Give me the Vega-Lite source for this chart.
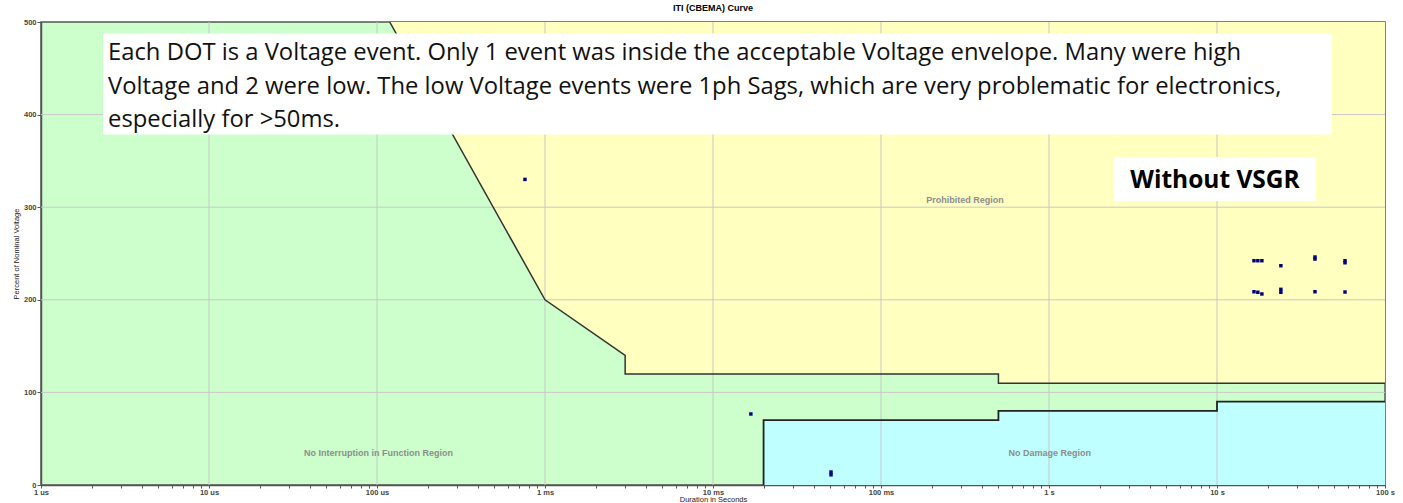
{
  "$schema": "https://vega.github.io/schema/vega-lite/v6.json",
  "width": 1344,
  "height": 463,
  "autosize": {"type": "none"},
  "padding": {"left": 41, "top": 22, "right": 18, "bottom": 18},
  "background": "#ffffff",
  "view": {"fill": "#ccffcc", "stroke": "#555555", "strokeWidth": 1.5},
  "title": {"text": "ITI (CBEMA) Curve", "font": "Liberation Sans", "fontSize": 9, "fontWeight": "bold", "color": "#000000", "offset": 5, "anchor": "middle"},
  "datasets": {
    "upper": [
      {"t": 0.000119, "v": 500, "o": 1},
      {"t": 0.001, "v": 200, "o": 2},
      {"t": 0.003, "v": 140, "o": 3},
      {"t": 0.003, "v": 120, "o": 4},
      {"t": 0.5, "v": 120, "o": 5},
      {"t": 0.5, "v": 110, "o": 6},
      {"t": 100, "v": 110, "o": 7}
    ],
    "lower": [
      {"t": 0.02, "v": 0, "o": 1},
      {"t": 0.02, "v": 70, "o": 2},
      {"t": 0.5, "v": 70, "o": 3},
      {"t": 0.5, "v": 80, "o": 4},
      {"t": 10, "v": 80, "o": 5},
      {"t": 10, "v": 90, "o": 6},
      {"t": 100, "v": 90, "o": 7}
    ],
    "vgrid": [{"t": 1e-5}, {"t": 0.0001}, {"t": 0.001}, {"t": 0.01}, {"t": 0.1}, {"t": 1}, {"t": 10}],
    "hgrid": [{"v": 100}, {"v": 200}, {"v": 300}, {"v": 400}],
    "events": [
      {"t": 0.00076, "v": 330},
      {"t": 0.0168, "v": 76.7},
      {"t": 0.0504, "v": 14},
      {"t": 0.0504, "v": 11},
      {"t": 16.6, "v": 242.2},
      {"t": 17.5, "v": 242.2},
      {"t": 18.5, "v": 242.2},
      {"t": 24.0, "v": 236.8},
      {"t": 38.3, "v": 246.2},
      {"t": 38.3, "v": 244},
      {"t": 57.8, "v": 242.2},
      {"t": 57.8, "v": 240},
      {"t": 16.6, "v": 208.7},
      {"t": 17.5, "v": 208.1},
      {"t": 18.5, "v": 206.3},
      {"t": 24.0, "v": 211.3},
      {"t": 24.0, "v": 208.1},
      {"t": 38.3, "v": 208.7},
      {"t": 57.8, "v": 208.4}
    ],
    "regions": [
      {"t": 0.316, "v": 308, "label": "Prohibited Region"},
      {"t": 0.000102, "v": 35, "label": "No Interruption in Function Region"},
      {"t": 1.01, "v": 35, "label": "No Damage Region"}
    ],
    "boxes": [
      {"t": 2.34e-6, "t2": 48.2, "v": 378.4, "v2": 487.6},
      {"t": 2.44, "t2": 38.8, "v": 306.7, "v2": 354.2}
    ],
    "note": [
      {"t": 2.506e-6, "v": 459.0, "label": "Each DOT is a Voltage event. Only 1 event was inside the acceptable Voltage envelope. Many were high"},
      {"t": 2.506e-6, "v": 422.2, "label": "Voltage and 2 were low. The low Voltage events were 1ph Sags, which are very problematic for electronics,"},
      {"t": 2.506e-6, "v": 386.6, "label": "especially for >50ms."}
    ],
    "tag": [
      {"t": 9.73, "v": 328, "label": "Without VSGR"}
    ]
  },
  "layer": [
    {
      "data": {"name": "upper"},
      "mark": {"type": "area", "color": "#ffffc0", "opacity": 1, "clip": true},
      "encoding": {
        "x": {
          "field": "t", "type": "quantitative",
          "scale": {"type": "log", "domain": [1e-6, 100], "nice": false},
          "axis": {
            "title": "Duration in Seconds",
            "grid": false,
            "values": [1e-6,2e-6,3e-6,4e-6,5e-6,6e-6,7e-6,8e-6,9e-6,1e-5,2e-5,3e-5,4e-5,5e-5,6e-5,7e-5,8e-5,9e-5,0.0001,0.0002,0.0003,0.0004,0.0005,0.0006,0.0007,0.0008,0.0009,0.001,0.002,0.003,0.004,0.005,0.006,0.007,0.008,0.009,0.01,0.02,0.03,0.04,0.05,0.06,0.07,0.08,0.09,0.1,0.2,0.3,0.4,0.5,0.6,0.7,0.8,0.9,1,2,3,4,5,6,7,8,9,10,20,30,40,50,60,70,80,90,100],
            "labelExpr": "abs(log(datum.value)/LN10 - round(log(datum.value)/LN10)) > 0.001 ? '' : (datum.value < 0.00099 ? format(datum.value*1e6,'.0f') + ' us' : datum.value < 0.99 ? format(datum.value*1e3,'.0f') + ' ms' : format(datum.value,'.0f') + ' s')",
            "labelOverlap": false,
            "labelFlush": false,
            "labelFont": "Liberation Sans",
            "labelFontSize": 7.5,
            "labelFontWeight": "bold",
            "labelColor": "#444444",
            "labelPadding": 0,
            "tickSize": 3,
            "tickColor": "#555555",
            "domainColor": "#555555",
            "domainWidth": 1.5,
            "titleFont": "Liberation Sans",
            "titleFontSize": 7.5,
            "titleFontWeight": "normal",
            "titleColor": "#222222",
            "titlePadding": 0
          }
        },
        "y": {
          "field": "v", "type": "quantitative",
          "stack": null,
          "scale": {"domain": [0, 500], "nice": false},
          "axis": {
            "title": "Percent of Nominal Voltage",
            "grid": false,
            "values": [0, 100, 200, 300, 400, 500],
            "labelFont": "Liberation Sans",
            "labelFontSize": 7.5,
            "labelFontWeight": "bold",
            "labelColor": "#444444",
            "labelPadding": 1,
            "tickSize": 4,
            "tickColor": "#555555",
            "domainColor": "#555555",
            "domainWidth": 1.5,
            "titleFont": "Liberation Sans",
            "titleFontSize": 7.5,
            "titleFontWeight": "normal",
            "titleColor": "#222222",
            "titlePadding": 3
          }
        },
        "y2": {"datum": 500}
      }
    },
    {
      "data": {"name": "lower"},
      "mark": {"type": "area", "color": "#c0ffff", "opacity": 1, "clip": true},
      "encoding": {
        "x": {"field": "t", "type": "quantitative"},
        "y": {"field": "v", "type": "quantitative", "stack": null},
        "y2": {"datum": 0}
      }
    },
    {
      "data": {"name": "vgrid"},
      "mark": {"type": "rule", "color": "#c8c8c8", "strokeWidth": 1},
      "encoding": {"x": {"field": "t", "type": "quantitative"}}
    },
    {
      "data": {"name": "hgrid"},
      "mark": {"type": "rule", "color": "#c8c8c8", "strokeWidth": 1},
      "encoding": {"y": {"field": "v", "type": "quantitative"}}
    },
    {
      "data": {"name": "upper"},
      "mark": {"type": "line", "color": "#333333", "strokeWidth": 1.5, "clip": true},
      "encoding": {
        "x": {"field": "t", "type": "quantitative"},
        "y": {"field": "v", "type": "quantitative"},
        "order": {"field": "o", "type": "quantitative"}
      }
    },
    {
      "data": {"name": "lower"},
      "mark": {"type": "line", "color": "#222222", "strokeWidth": 1.8, "clip": true},
      "encoding": {
        "x": {"field": "t", "type": "quantitative"},
        "y": {"field": "v", "type": "quantitative"},
        "order": {"field": "o", "type": "quantitative"}
      }
    },
    {
      "data": {"name": "events"},
      "mark": {"type": "square", "color": "#000080", "size": 12, "opacity": 1, "filled": true},
      "encoding": {
        "x": {"field": "t", "type": "quantitative"},
        "y": {"field": "v", "type": "quantitative"}
      }
    },
    {
      "data": {"name": "regions"},
      "mark": {"type": "text", "font": "Liberation Sans", "fontSize": 9, "fontWeight": "bold", "color": "#8c8c8c", "align": "center", "baseline": "middle"},
      "encoding": {
        "x": {"field": "t", "type": "quantitative"},
        "y": {"field": "v", "type": "quantitative"},
        "text": {"field": "label"}
      }
    },
    {
      "data": {"name": "boxes"},
      "mark": {"type": "rect", "color": "#ffffff", "opacity": 1},
      "encoding": {
        "x": {"field": "t", "type": "quantitative"},
        "x2": {"field": "t2"},
        "y": {"field": "v", "type": "quantitative"},
        "y2": {"field": "v2"}
      }
    },
    {
      "data": {"name": "note"},
      "mark": {"type": "text", "font": "Open Sans", "fontSize": 23.8, "color": "#111111", "align": "left", "baseline": "alphabetic"},
      "encoding": {
        "x": {"field": "t", "type": "quantitative"},
        "y": {"field": "v", "type": "quantitative"},
        "text": {"field": "label"}
      }
    },
    {
      "data": {"name": "tag"},
      "mark": {"type": "text", "font": "Open Sans", "fontSize": 24.5, "fontWeight": "bold", "color": "#000000", "align": "center", "baseline": "middle"},
      "encoding": {
        "x": {"field": "t", "type": "quantitative"},
        "y": {"field": "v", "type": "quantitative"},
        "text": {"field": "label"}
      }
    }
  ]
}
